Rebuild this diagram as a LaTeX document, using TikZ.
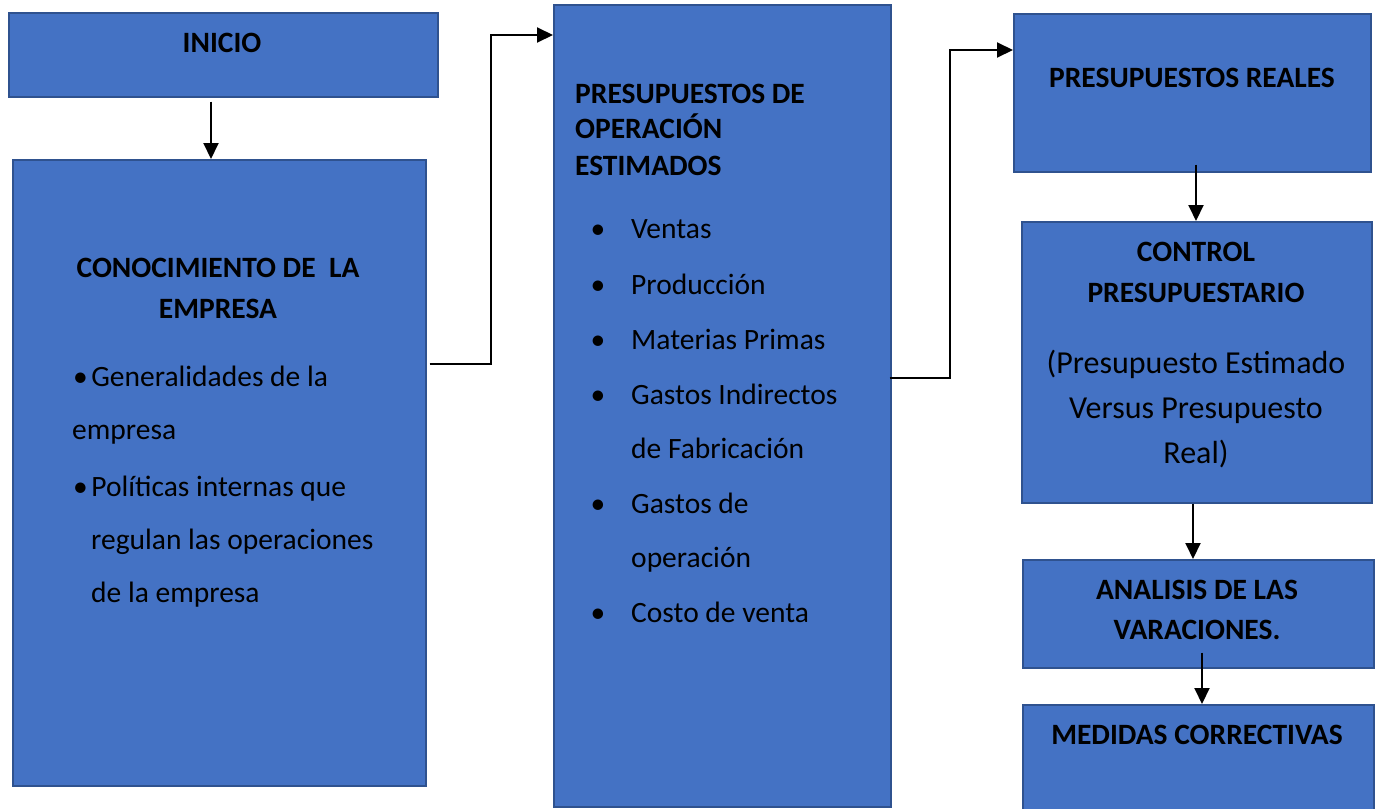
\documentclass[tikz,border=0pt]{standalone}
\usepackage{fontspec}
\setmainfont{Carlito}
\usetikzlibrary{arrows.meta}
\definecolor{boxfill}{HTML}{4472C4}
\definecolor{boxline}{HTML}{2F528F}
\tikzset{
  box/.style={draw=boxline, fill=boxfill, line width=1.5pt, anchor=north west, inner sep=0pt},
  hd/.style={font=\fontsize{29.5}{32}\selectfont\bfseries, inner sep=0pt, anchor=base},
  hdl/.style={font=\fontsize{29.5}{32}\selectfont\bfseries, inner sep=0pt, anchor=base west},
  tx/.style={font=\fontsize{29.5}{32}\selectfont, inner sep=0pt, anchor=base},
  txbig/.style={font=\fontsize{32}{35}\selectfont, inner sep=0pt, anchor=base},
  txl/.style={font=\fontsize{29.5}{32}\selectfont, inner sep=0pt, anchor=base west},
  conn/.style={draw=black, line width=2pt, -{Triangle[length=16pt,width=15pt]}}
}
\begin{document}
\begin{tikzpicture}[x=1pt,y=-1pt]
\useasboundingbox (0,0) rectangle (1377,809);
% boxes
\node[box, minimum width=429pt, minimum height=84pt] (inicio) at (8,12) {};
\node[box, minimum width=413pt, minimum height=626pt] (conoc) at (12,159) {};
\node[box, minimum width=337pt, minimum height=802pt] (presup) at (553,4) {};
\node[box, minimum width=357pt, minimum height=158pt] (reales) at (1013,13) {};
\node[box, minimum width=350pt, minimum height=281pt] (control) at (1021,221) {};
\node[box, minimum width=351pt, minimum height=108pt] (analisis) at (1022,559) {};
\node[box, minimum width=351pt, minimum height=112pt] (medidas) at (1022,704) {};
% texts
\node[hd] (t-inicio) at (222,52) {INICIO};
\node[hd] (t-con1) at (218,277) {CONOCIMIENTO DE\ \ LA};
\node[hd] (t-con2) at (218,318) {EMPRESA};
\node[txl] (t-con3) at (73,386) {\textbullet\kern3.5pt Generalidades de la};
\node[txl] (t-con4) at (72,439) {empresa};
\node[txl] (t-con5) at (73,496) {\textbullet\kern3.5pt Políticas internas que};
\node[txl] (t-con6) at (91,549) {regulan las operaciones};
\node[txl] (t-con7) at (91,602) {de la empresa};
\node[hdl] (t-pre1) at (575,103) {PRESUPUESTOS DE};
\node[hdl] (t-pre2) at (575,138) {OPERACIÓN};
\node[hdl] (t-pre3) at (575,175) {ESTIMADOS};
\foreach \nm/\yy/\lab/\bul in {b1/238/Ventas/1, b2/294/Producción/1, b3/349/Materias Primas/1,
   b4/404/Gastos Indirectos/1, b5/458/de Fabricación/0, b6/513/Gastos de/1, b7/567/operación/0,
   b8/622/Costo de venta/1}{
  \node[txl] (t-\nm) at (631,\yy) {\lab};
  \ifnum\bul=1 \node[tx, anchor=base] (d-\nm) at (598,\yy) {\textbullet}; \fi
}
\node[hd] (t-rea) at (1192,87) {PRESUPUESTOS REALES};
\node[hd] (t-ctl1) at (1196,261) {CONTROL};
\node[hd] (t-ctl2) at (1196,302) {PRESUPUESTARIO};
\node[txbig] (t-ctl3) at (1196,373) {(Presupuesto Estimado};
\node[txbig] (t-ctl4) at (1196,418) {Versus Presupuesto};
\node[txbig] (t-ctl5) at (1196,463) {Real)};
\node[hd] (t-ana1) at (1197,599) {ANALISIS DE LAS};
\node[hd] (t-ana2) at (1197,639) {VARACIONES.};
\node[hd] (t-med) at (1197,744) {MEDIDAS CORRECTIVAS};
% connectors
\draw[conn] ([yshift=-4pt]inicio.south -| 211,0) -- (conoc.north -| 211,0);
\draw[conn] ([xshift=3pt]conoc.east |- 0,364) -- (491,364) |- (presup.west |- 0,35);
\draw[conn] ([xshift=-2pt]presup.east |- 0,378) -- (950,378) |- (reales.west |- 0,50);
\draw[conn] ([yshift=8pt]reales.south -| 1196,0) -- (control.north -| 1196,0);
\draw[conn] (control.south -| 1193,0) -- (analisis.north -| 1193,0);
\draw[conn] ([yshift=16pt]analisis.south -| 1202,0) -- (medidas.north -| 1202,0);
\end{tikzpicture}
\end{document}
